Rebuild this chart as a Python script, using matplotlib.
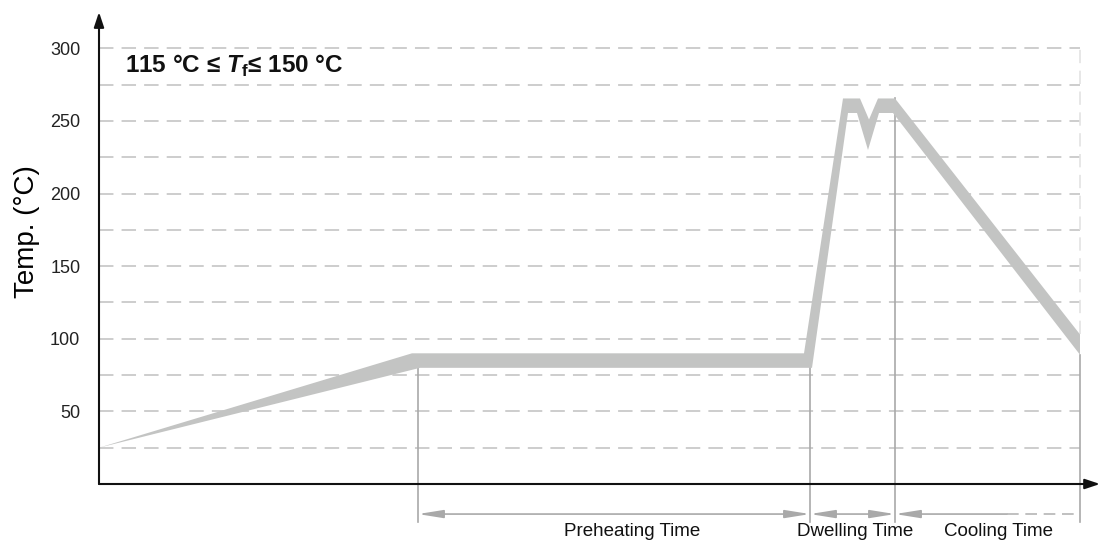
import matplotlib
matplotlib.use("Agg")
import matplotlib.pyplot as plt
from matplotlib.patches import FancyArrowPatch

plt.rcParams['font.family'] = ['Liberation Sans', 'DejaVu Sans']
plt.rcParams['mathtext.fontset'] = 'custom'
plt.rcParams['mathtext.rm'] = 'Liberation Sans'
plt.rcParams['mathtext.bf'] = 'Liberation Sans:bold'
plt.rcParams['mathtext.bfit'] = 'Liberation Sans:italic:bold'

# reflow profile band (time in arbitrary units, temp in deg C)
upper_time = [0, 31.3, 70.5, 74.4, 76.1, 77.0, 77.9, 79.6, 98.1]
upper_temp = [25, 90, 90, 265.5, 265.5, 251, 265.5, 265.5, 103]
lower_time = [0, 32.1, 71.3, 74.9, 75.8, 76.9, 78.0, 79.4, 98.1]
lower_temp = [25, 80, 80, 255.5, 255.5, 230, 255.5, 255.5, 89]

# phase boundaries
phase_time = [31.9, 71.1, 79.6, 98.1]
phase_names = ['Preheating Time', 'Dwelling Time', 'Cooling Time']
phase_label_x = [53.3, 75.6, 89.9]
phase_line_top = [80, 80, 265.5, 89]

grid_levels = [25, 50, 75, 100, 125, 150, 175, 200, 225, 250, 275, 300]
tick_values = [50, 100, 150, 200, 250, 300]

band_color = '#c3c4c3'
mark_color = '#a9a9a9'

fig = plt.figure(figsize=(11.01, 5.45), dpi=100)
ax = fig.add_axes([99/1101, 61/545, 1002/1101, 479.2/545])
ax.set_xlim(0, 100.2)
ax.set_ylim(0, 330)
for s in ax.spines.values():
    s.set_visible(False)
ax.set_xticks([])
ax.set_yticks(tick_values)
ax.tick_params(axis='y', length=0, pad=13.5, labelsize=13, labelcolor='#222222')
ax.set_ylabel('Temp. (°C)', fontsize=20)
ax.yaxis.set_label_coords(-0.059, 0.526)

# dashed grid
ax.hlines(grid_levels, 0, phase_time[-1], colors='#c9c9c9', linewidth=1.3,
          linestyles=(0, (8, 4.5)), zorder=1)
ax.plot([phase_time[-1], phase_time[-1]], [upper_temp[-1], 300], color='#e3e3e3',
        lw=1.2, ls=(0, (8, 4.5)), zorder=1)

# vertical phase markers
for t, top in zip(phase_time, phase_line_top):
    ax.plot([t, t], [-26, top], color=mark_color, lw=1.2, zorder=2, clip_on=False)

# profile band
poly_t = upper_time + lower_time[::-1]
poly_y = upper_temp + lower_temp[::-1]
ax.fill(poly_t, poly_y, color=band_color, lw=0, zorder=3)

# dimension arrows below the axis
dim_y = -20.7
def dim_arrow(x0, x1, style):
    a = FancyArrowPatch((x0, dim_y), (x1, dim_y), arrowstyle=style, color=mark_color,
                        lw=1.2, shrinkA=0, shrinkB=0, clip_on=False, zorder=2)
    a.set_arrowstyle(style, head_length=15, head_width=2.4)
    ax.add_patch(a)

dim_arrow(phase_time[0], phase_time[1], '<|-|>')
dim_arrow(phase_time[1], phase_time[2], '<|-|>')
dim_arrow(phase_time[2], 90.8, '<|-')
ax.plot([90.8, phase_time[3]], [dim_y, dim_y], color='#b5b5b5', lw=1.2,
        ls=(0, (7, 4)), clip_on=False)

for name, x in zip(phase_names, phase_label_x):
    ax.text(x, -33, name, ha='center', va='center', fontsize=13.5, color='#111111',
            clip_on=False)

# axes with arrow heads
for end in [(100.1, 0), (0, 325)]:
    a = FancyArrowPatch((0, 0), end, arrowstyle='-|>', color='#111111', lw=1.5,
                        shrinkA=0, shrinkB=0, clip_on=False, zorder=5)
    a.set_arrowstyle('-|>', head_length=9, head_width=3)
    ax.add_patch(a)

ax.text(2.6, 283, '115 °C ≤ $\\mathbfit{T}_\\mathbf{f}$≤ 150 °C', fontsize=17.5,
        fontweight='bold', ha='left', va='baseline', color='#111111')

fig.savefig('out.png', dpi=100)
